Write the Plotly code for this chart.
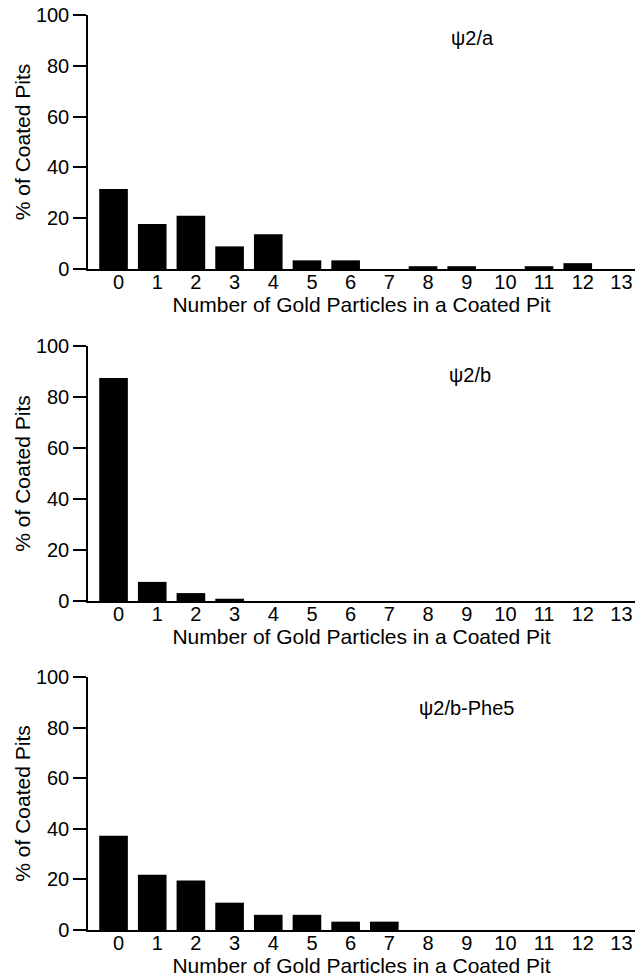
import plotly.graph_objects as go

categories = list(range(14))
tick_labels = [str(c) for c in categories]
psi2a = [31.5, 17.7, 21.0, 8.9, 13.7, 3.4, 3.4, 0.0, 1.1, 1.1, 0.0, 1.1, 2.3, 0.0]
psi2b = [87.5, 7.5, 3.1, 0.9, 0, 0, 0, 0, 0, 0, 0, 0, 0, 0]
psi2b_phe5 = [37.3, 21.8, 19.6, 10.8, 6.0, 6.0, 3.3, 3.3, 0, 0, 0, 0, 0, 0]
panel_labels = ["\u03c82/a", "\u03c82/b", "\u03c82/b-Phe5"]
y_ticks = [0, 20, 40, 60, 80, 100]
x_title = "Number of Gold Particles in a Coated Pit"
y_title = "% of Coated Pits"

series = [psi2a, psi2b, psi2b_phe5]
W, H = 635, 977
# panel pixel extents (top, bottom) in page coordinates
panels_px = [(15, 269), (346, 601), (677, 930)]
left_px, right_px = 88, 635
FONT = "Liberation Sans, Arial, Helvetica, sans-serif"
label_pos = [(8.7, 91), (8.64, 88.6), (7.87, 87.7)]

fig = go.Figure()
for i, vals in enumerate(series):
    n = "" if i == 0 else str(i + 1)
    fig.add_trace(go.Bar(x=categories, y=vals, marker=dict(color="black", line=dict(width=0)),
                         xaxis="x" + n, yaxis="y" + n, showlegend=False))
    top, bot = panels_px[i]
    dom_y = [1 - bot / H, 1 - top / H]
    fig.layout["xaxis" + n] = dict(
        domain=[left_px / W, right_px / W], range=[-0.66, 13.48], anchor="y" + n,
        tickmode="array", tickvals=categories, ticktext=tick_labels,
        ticks="", showline=True, linecolor="black", linewidth=1.5,
        showgrid=False, zeroline=False, ticklabelshift=5, ticklabelstandoff=-6,
        automargin=False, ticklabeloverflow="allow",
        tickfont=dict(family=FONT, size=20, color="black"),
        title=dict(text=x_title, font=dict(family=FONT, size=21, color="black"), standoff=0),
    )
    fig.layout["yaxis" + n] = dict(
        domain=dom_y, range=[0, 100], anchor="x" + n,
        tickmode="array", tickvals=y_ticks, ticks="outside", ticklen=13, tickwidth=1.5,
        tickcolor="black", showline=True, linecolor="black", linewidth=1.5,
        showgrid=False, zeroline=False, automargin=False, ticklabeloverflow="allow",
        tickfont=dict(family=FONT, size=20, color="black"),
        title=dict(text=y_title, font=dict(family=FONT, size=21, color="black"), standoff=0),
    )
    lx, ly = label_pos[i]
    fig.add_annotation(text=panel_labels[i], xref="x" + n, yref="y" + n,
                       x=lx, y=ly, xanchor="left", yanchor="middle", showarrow=False,
                       borderpad=0, font=dict(family=FONT, size=20, color="black"))

fig.update_layout(width=W, height=H, margin=dict(l=0, r=0, t=0, b=0, autoexpand=False),
                  template="none",
                  paper_bgcolor="white", plot_bgcolor="white", bargap=0.26)
fig.write_html("out.html", config={"displayModeBar": False},
               post_script="document.body.style.margin='0';document.body.style.overflow='hidden';")
